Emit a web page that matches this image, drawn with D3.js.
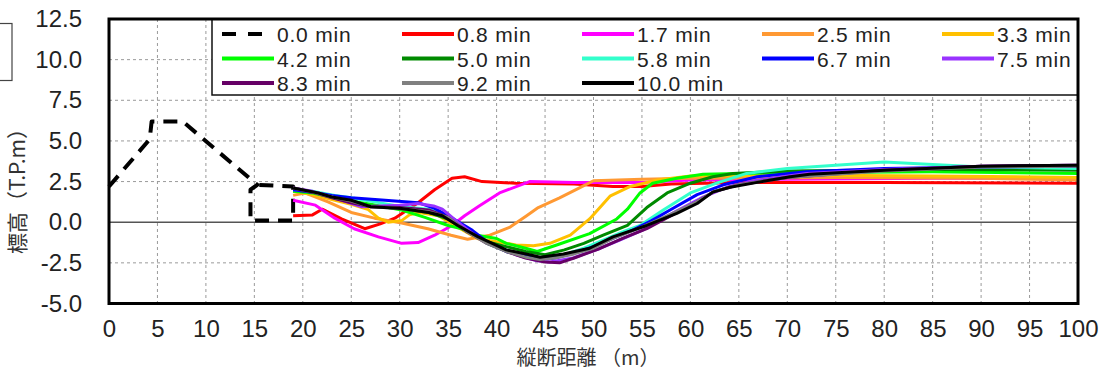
<!DOCTYPE html>
<html>
<head>
<meta charset="utf-8">
<script src="https://cdn.jsdelivr.net/npm/d3@7"></script>
<style>
  body { margin: 0; background: #fff; }
  svg { display: block; font-family: "Liberation Sans", Arial, sans-serif; }
</style>
</head>
<body>
<svg id="chart" width="1100" height="374"></svg>
<script>
// series names and colours (legend order)
const labels = ['0.0 min', '0.8 min', '1.7 min', '2.5 min', '3.3 min',
  '4.2 min', '5.0 min', '5.8 min', '6.7 min', '7.5 min',
  '8.3 min', '9.2 min', '10.0 min'];
const colors = ['#000000', '#ff0000', '#ff00ff', '#ff9933', '#ffc000',
  '#00ff00', '#008a00', '#33ffcc', '#0000ff', '#9933ff',
  '#660066', '#808080', '#000000'];

const xTicks = d3.range(0, 101, 5);
const yTicks = [-5, -2.5, 0, 2.5, 5, 7.5, 10, 12.5];

// [distance m, elevation T.P.m]
const s00 = [[0, 2.2], [4.2, 5.1], [4.4, 6.2], [7.6, 6.2], [15.3, 2.3], [14.6, 2.0],
  [14.6, 0.1], [19, 0.1], [19, 2.2], [15.3, 2.3]];
const s08 = [[19, 0.4], [21, 0.45], [22, 0.8], [24, 0.2], [26.4, -0.4], [28, -0.1], [29.5, 0.25],
  [31.9, 1.2], [33.6, 2.0], [35.4, 2.7], [36.7, 2.8], [38.5, 2.5], [42, 2.4], [48, 2.35],
  [52, 2.2], [55, 2.2], [58, 2.35], [65, 2.45], [80, 2.45], [100, 2.4]];
const s17 = [[19, 1.35], [21.3, 1.05], [23.3, 0.25], [25.3, -0.4], [27.8, -0.9], [30.2, -1.3],
  [31.9, -1.25], [33.6, -0.8], [35.4, -0.2], [36.7, 0.4], [38.2, 1.0], [40.3, 1.8], [43.4, 2.5],
  [48, 2.45], [55, 2.45], [60, 2.6], [70, 2.65], [85, 2.7], [100, 2.7]];
const s25 = [[19, 1.65], [20.2, 1.8], [22.6, 1.25], [25, 0.6], [27.4, 0.25], [30.2, -0.05],
  [32.9, -0.4], [35.3, -0.8], [37, -1.05], [39.3, -0.8], [41.4, -0.3], [43.1, 0.4], [44.3, 0.9],
  [46.5, 1.5], [48.5, 2.1], [50, 2.55], [55, 2.65], [60, 2.7], [75, 2.75], [90, 2.7], [100, 2.6]];
const s33 = [[19, 1.9], [21, 1.7], [23, 1.4], [25, 1.1], [26.7, 0.8], [27.8, 0.25], [28.8, 0.0],
  [30.2, 0.1], [31, 0.45], [32, 0.6], [34, 0.4], [36, -0.3], [38, -1.0], [40, -1.2], [42, -1.4],
  [43.8, -1.45], [45.5, -1.3], [47.6, -0.8], [49.6, 0.2], [51.7, 1.6], [53.8, 2.2], [56.6, 2.6],
  [60, 2.85], [70, 2.9], [85, 2.85], [100, 2.75]];
const s42 = [[19, 1.9], [21, 1.8], [23, 1.55], [25, 1.3], [27, 1.1], [30.2, 0.75], [32.6, 0.3],
  [35, -0.2], [36.4, -0.4], [38, -0.8], [40, -1.0], [41, -1.3], [43, -1.6], [44.2, -1.8],
  [46.2, -1.4], [49.6, -0.7], [52.4, 0.2], [53.5, 0.8], [54.8, 1.8], [56.1, 2.4], [58.6, 2.7],
  [61.3, 2.95], [70, 3.05], [85, 3.1], [100, 3.0]];
const s50 = [[19, 2.0], [21, 1.85], [23, 1.6], [25, 1.3], [27, 1.0], [30, 0.85], [33, 0.6],
  [35, 0.2], [37, -0.6], [39, -1.2], [41, -1.5], [43, -1.8], [45, -2.0], [47, -1.7], [49, -1.3],
  [51, -0.8], [53.5, -0.2], [55.5, 0.9], [57.6, 1.8], [60, 2.4], [62.3, 2.8], [64.4, 3.0],
  [70, 3.15], [85, 3.25], [100, 3.2]];
const s58 = [[19, 2.0], [21, 1.9], [23.3, 1.65], [25, 1.5], [27.4, 1.25], [30.2, 0.95], [33, 0.8],
  [35, 0.4], [37, -0.5], [39, -1.3], [41, -1.8], [43, -2.1], [45, -2.3], [47, -2.0], [49, -1.6],
  [51, -1.1], [53, -0.6], [54.8, -0.2], [57.2, 0.75], [60, 1.8], [62.7, 2.4], [65.8, 3.0],
  [70, 3.3], [75, 3.5], [80, 3.7], [85, 3.55], [90, 3.4], [100, 3.3]];
const s67 = [[19, 2.0], [21, 1.85], [23, 1.65], [25, 1.5], [28.5, 1.35], [31.9, 1.2], [33.6, 0.85],
  [35.4, 0.25], [37.5, -0.5], [39, -1.2], [41, -1.8], [43, -2.1], [44.5, -2.3], [46, -2.2],
  [48, -1.9], [50, -1.5], [52, -1.0], [54, -0.5], [56, 0.1], [57.9, 0.75], [60.7, 1.7],
  [63.4, 2.3], [66.9, 2.8], [72, 3.1], [80, 3.3], [90, 3.4], [100, 3.45]];
const s75 = [[19, 2.1], [21, 1.9], [23, 1.55], [26.1, 0.95], [28, 1.0], [30, 1.05], [31.9, 1.15],
  [33.5, 1.0], [34.4, 0.8], [36, 0.0], [38, -0.9], [40, -1.5], [42, -2.0], [44, -2.35],
  [45.5, -2.45], [47.9, -2.2], [50.7, -1.6], [52.7, -1.1], [55, -0.5], [58.6, 0.7], [61.3, 1.55],
  [64, 2.2], [67, 2.6], [72, 3.0], [80, 3.25], [90, 3.45], [100, 3.5]];
const s83 = [[19, 2.1], [21, 1.85], [23, 1.5], [25, 1.2], [27, 0.95], [30, 0.9], [33, 0.75],
  [35, 0.3], [37, -0.6], [39, -1.3], [41, -1.8], [43, -2.2], [45, -2.45], [46.5, -2.5], [48, -2.2],
  [50.5, -1.65], [53, -1.0], [55.5, -0.4], [58, 0.4], [60.5, 1.2], [62.5, 1.9], [65, 2.3],
  [70, 2.75], [80, 3.2], [90, 3.45], [100, 3.5]];
const s92 = [[19, 2.1], [21, 1.85], [23, 1.55], [25, 1.3], [27, 0.95], [30, 0.85], [33, 0.65],
  [35, 0.3], [37, -0.6], [39, -1.3], [41, -1.8], [43, -2.15], [44.5, -2.3], [46, -2.2],
  [48, -1.95], [50, -1.6], [52, -1.0], [55, -0.3], [58, 0.5], [60.5, 1.2], [62.5, 1.9], [65, 2.3],
  [70, 2.75], [80, 3.15], [90, 3.4], [100, 3.45]];
const s100 = [[19, 2.1], [21.6, 1.8], [23, 1.55], [25, 1.35], [27, 0.95], [30.2, 0.85], [33, 0.6],
  [34.4, 0.4], [36, -0.2], [38.1, -0.9], [41, -1.7], [43.4, -2.0], [44.5, -2.15], [46.9, -1.95],
  [49.6, -1.6], [52, -0.9], [55.5, -0.2], [58.6, 0.55], [60.7, 1.15], [62.3, 1.85], [64.1, 2.15],
  [66.9, 2.45], [70.3, 2.8], [72.3, 2.95], [80, 3.2], [90, 3.45], [100, 3.5]];

const series = [s00, s08, s17, s25, s33, s42, s50, s58, s67, s75, s83, s92, s100];

const svg = d3.select('#chart');
const plot = { left: 109, right: 1078, top: 19, bottom: 303.5 };

const x = d3.scaleLinear().domain([0, 100]).range([plot.left, plot.right]);
const y = d3.scaleLinear().domain([-5, 12.5]).range([plot.bottom, plot.top]);

// cropped box at the top-left edge
svg.append('rect')
  .attr('x', -2).attr('y', 23.5).attr('width', 14).attr('height', 57)
  .attr('fill', 'none').attr('stroke', '#444').attr('stroke-width', 1.2);

// grid
const grid = svg.append('g');
grid.selectAll('.vg')
  .data(xTicks.filter(d => d > 0 && d < 100))
  .join('line')
  .attr('x1', d => x(d)).attr('x2', d => x(d))
  .attr('y1', plot.top).attr('y2', plot.bottom)
  .attr('stroke', '#9a9a9a').attr('stroke-width', 1).attr('stroke-dasharray', '3,3');
grid.selectAll('.hg')
  .data(yTicks.filter(d => d > -5 && d < 12.5 && d !== 0))
  .join('line')
  .attr('x1', plot.left).attr('x2', plot.right)
  .attr('y1', d => y(d)).attr('y2', d => y(d))
  .attr('stroke', '#9a9a9a').attr('stroke-width', 1).attr('stroke-dasharray', '3,3');
grid.append('line')
  .attr('x1', plot.left).attr('x2', plot.right)
  .attr('y1', y(0)).attr('y2', y(0))
  .attr('stroke', '#555').attr('stroke-width', 1.5);

// series
const line = d3.line().x(d => x(d[0])).y(d => y(d[1]));
series.forEach((s, i) => {
  svg.append('path')
    .datum(s)
    .attr('fill', 'none')
    .attr('stroke', colors[i])
    .attr('stroke-width', i === 0 ? 4 : 3)
    .attr('stroke-dasharray', i === 0 ? '14,9' : null)
    .attr('stroke-linejoin', 'round')
    .attr('d', line);
});

// legend
const leg = svg.append('g');
leg.append('rect')
  .attr('x', 212).attr('y', plot.top).attr('width', plot.right - 212).attr('height', 95 - plot.top)
  .attr('fill', '#fff').attr('stroke', '#111').attr('stroke-width', 1.5);
labels.forEach((name, i) => {
  const col = i % 5, row = Math.floor(i / 5);
  const lx = 222 + col * 180, ly = 34 + row * 24.5;
  leg.append('line')
    .attr('x1', lx).attr('x2', i === 0 ? lx + 40 : lx + 52)
    .attr('y1', ly).attr('y2', ly)
    .attr('stroke', colors[i]).attr('stroke-width', 4)
    .attr('stroke-dasharray', i === 0 ? '14,12' : null);
  leg.append('text')
    .attr('x', lx + 55).attr('y', ly + 8)
    .attr('font-size', 21).attr('letter-spacing', 0.8).attr('fill', '#222')
    .text(name);
});

// frame
svg.append('rect')
  .attr('x', plot.left).attr('y', plot.top)
  .attr('width', plot.right - plot.left).attr('height', plot.bottom - plot.top)
  .attr('fill', 'none').attr('stroke', '#000').attr('stroke-width', 3);

// axes
const yAxis = svg.append('g')
  .attr('transform', `translate(${plot.left},0)`)
  .call(d3.axisLeft(y).tickValues(yTicks).tickSize(0).tickPadding(27).tickFormat(d => d.toFixed(1)));
yAxis.select('.domain').remove();
yAxis.selectAll('text').attr('font-size', 24).attr('fill', '#222').attr('font-family', '"Liberation Sans", Arial, sans-serif');

const xAxis = svg.append('g')
  .attr('transform', `translate(0,${plot.bottom})`)
  .call(d3.axisBottom(x).tickValues(xTicks).tickSize(0).tickPadding(16).tickFormat(d3.format('d')));
xAxis.select('.domain').remove();
xAxis.selectAll('text').attr('font-size', 24).attr('fill', '#222').attr('font-family', '"Liberation Sans", Arial, sans-serif');

// axis titles
svg.append('text')
  .attr('x', 588).attr('y', 365)
  .attr('text-anchor', 'middle')
  .attr('font-family', '"Noto Sans CJK JP", sans-serif')
  .attr('font-size', 20).attr('fill', '#333')
  .text('縦断距離 （m）');

svg.append('text')
  .attr('transform', 'translate(25,186) rotate(-90)')
  .attr('text-anchor', 'middle')
  .attr('font-family', '"Noto Sans CJK JP", sans-serif')
  .attr('font-size', 21).attr('fill', '#333')
  .text('標高（T.P.m）');
</script>
</body>
</html>
